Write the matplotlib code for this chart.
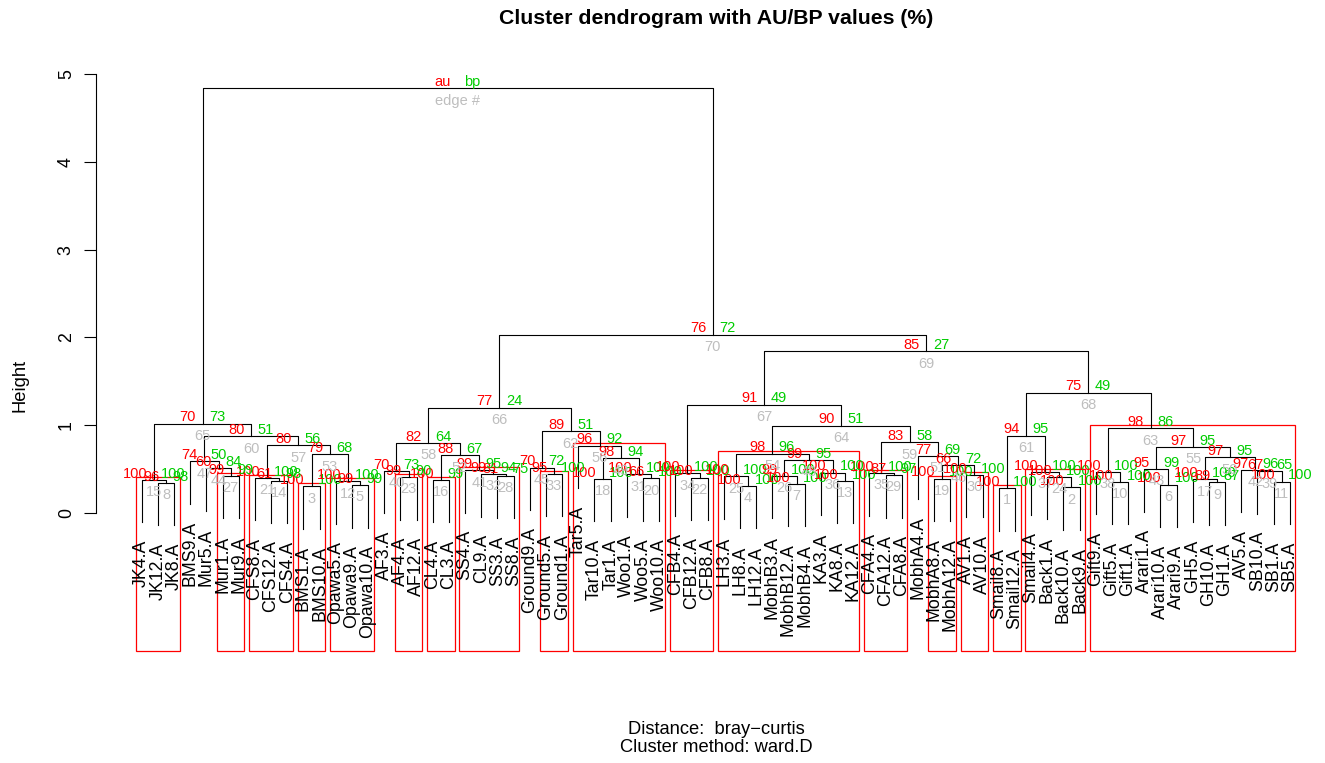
import matplotlib.pyplot as plt
from matplotlib.patches import Rectangle

plt.rcParams['font.family'] = ['Liberation Sans', 'DejaVu Sans']

leaves = ["JK4.A", "JK12.A", "JK8.A", "BMS9.A", "Mur5.A", "Mur1.A", "Mur9.A",
          "CFS8.A", "CFS12.A", "CFS4.A", "BMS1.A", "BMS10.A", "Opawa5.A",
          "Opawa9.A", "Opawa10.A", "AF3.A", "AF4.A", "AF12.A", "CL4.A", "CL3.A",
          "SS4.A", "CL9.A", "SS3.A", "SS8.A", "Ground9.A", "Ground5.A",
          "Ground1.A", "Tar5.A", "Tar10.A", "Tar1.A", "Woo1.A", "Woo5.A",
          "Woo10.A", "CFB4.A", "CFB12.A", "CFB8.A", "LH3.A", "LH8.A", "LH12.A",
          "MobhB3.A", "MobhB12.A", "MobhB4.A", "KA3.A", "KA8.A", "KA12.A",
          "CFA4.A", "CFA12.A", "CFA8.A", "MobhA4.A", "MobhA8.A", "MobhA12.A",
          "AV1.A", "AV10.A", "Smail8.A", "Smail12.A", "Smail4.A", "Back1.A",
          "Back10.A", "Back9.A", "Gift9.A", "Gift5.A", "Gift1.A", "Arari1.A",
          "Arari10.A", "Arari9.A", "GH5.A", "GH10.A", "GH1.A", "AV5.A",
          "SB10.A", "SB1.A", "SB5.A"]

# one row per edge (edge # = row + 1); a child is a leaf name or an earlier edge #
merges = [
    ("Smail8.A", "Smail12.A"), ("Back10.A", "Back9.A"), ("BMS1.A", "BMS10.A"),
    ("LH8.A", "LH12.A"), ("Opawa9.A", "Opawa10.A"), ("Arari10.A", "Arari9.A"),
    ("MobhB12.A", "MobhB4.A"), ("JK12.A", "JK8.A"), ("GH10.A", "GH1.A"),
    ("Gift5.A", "Gift1.A"), ("SB1.A", "SB5.A"), ("Opawa5.A", 5),
    ("KA8.A", "KA12.A"), ("CFS12.A", "CFS4.A"), ("JK4.A", 8),
    ("CL4.A", "CL3.A"), ("GH5.A", 9), ("Tar10.A", "Tar1.A"),
    ("MobhA8.A", "MobhA12.A"), ("Woo5.A", "Woo10.A"), ("CFS8.A", 14),
    ("CFB12.A", "CFB8.A"), ("AF4.A", "AF12.A"), ("Back1.A", 2),
    ("LH3.A", 4), ("MobhB3.A", 7), ("Mur1.A", "Mur9.A"), ("SS3.A", "SS8.A"),
    ("CFA12.A", "CFA8.A"), ("AV1.A", "AV10.A"), ("Woo1.A", 20), ("CL9.A", 28),
    ("Ground5.A", "Ground1.A"), ("CFB4.A", 22), ("CFA4.A", 29), ("KA3.A", 13),
    ("Smail4.A", 24), ("Gift9.A", 10), ("SB10.A", 11), ("AF3.A", 23),
    ("SS4.A", 32), ("AV5.A", 39), ("Arari1.A", 6), ("Mur5.A", 27),
    ("Ground9.A", 33), (19, 30), ("BMS9.A", 44), (26, 36), (18, 31), (17, 42),
    ("MobhA4.A", 46), (16, 41), (3, 12), (25, 48), (43, 50), ("Tar5.A", 49),
    (21, 53), (40, 52), (35, 51), (47, 57), (1, 37), (45, 56), (38, 55),
    (54, 59), (15, 60), (58, 62), (34, 64), (61, 63), (67, 68), (66, 69),
    (65, 70),
]

heights = [0.28, 0.29, 0.30, 0.305, 0.315, 0.32, 0.33, 0.34, 0.345, 0.35,
           0.355, 0.358, 0.362, 0.366, 0.373, 0.376, 0.38, 0.384, 0.388, 0.392,
           0.396, 0.40, 0.405, 0.41, 0.414, 0.418, 0.42, 0.424, 0.428, 0.432,
           0.436, 0.44, 0.443, 0.448, 0.452, 0.457, 0.462, 0.467, 0.472, 0.476,
           0.484, 0.49, 0.497, 0.505, 0.515, 0.54, 0.585, 0.60, 0.62, 0.63,
           0.645, 0.655, 0.665, 0.675, 0.75, 0.765, 0.768, 0.795, 0.803, 0.871,
           0.879, 0.928, 0.962, 0.993, 1.016, 1.199, 1.233, 1.37, 1.84, 2.03,
           4.84]

au = [100, 100, 100, 100, 99, 100, 100, 96, 89, 100, 100, 100, 100, 61, 100,
      100, 100, 100, 100, 66, 100, 100, 99, 100, 100, 99, 99, 81, 87, 100,
      100, 99, 95, 100, 100, 100, 100, 100, 67, 70, 99, 97, 95, 60, 70, 66,
      74, 99, 98, 97, 77, 88, 79, 98, 97, 96, 80, 82, 83, 80, 94, 89, 98, 90,
      70, 77, 91, 75, 85, 76, 100]

bp = [100, 100, 100, 100, 99, 100, 100, 98, 87, 100, 100, 100, 100, 98, 100,
      99, 100, 100, 100, 100, 100, 100, 90, 100, 100, 100, 99, 75, 97, 100,
      100, 94, 100, 100, 100, 100, 100, 100, 65, 73, 95, 96, 99, 84, 72, 72,
      50, 95, 94, 95, 69, 67, 68, 96, 95, 92, 56, 64, 58, 51, 95, 51, 86, 51,
      73, 24, 49, 49, 27, 72, 100]

RED, GREEN, GREY = '#FF0000', '#00CD00', '#BEBEBE'
YMIN, YMAX = -1.61, 5.16
XMIN, XMAX = -1.84, 74.18
NUM_SIZE = 10.5
LABEL_SIZE = 12.8

n = len(leaves)
hang = 0.1 * max(heights)
leaf_x = {name: i + 1 for i, name in enumerate(leaves)}

fig = plt.figure(figsize=(13.25, 7.63), dpi=100)
ax = fig.add_axes([95.8 / 1325, 1 - 653.9 / 763, 1 - 95.8 / 1325, (653.9 - 60.2) / 763])
ax.set_xlim(XMIN, XMAX)
ax.set_ylim(YMIN, YMAX)

node_x, members = [], []
for k, (a, b) in enumerate(merges):
    h = heights[k]
    xs, ys, mem = [], [], set()
    for c in (a, b):
        if isinstance(c, str):
            x = leaf_x[c]
            bottom = h - hang
            mem.add(x)
            ax.annotate(c, (x, bottom), xytext=(0, -12.5), textcoords='offset points',
                        rotation=90, ha='center', va='top', fontsize=LABEL_SIZE)
        else:
            x = node_x[c - 1]
            bottom = heights[c - 1]
            mem |= members[c - 1]
        xs.append(x)
        ys.append(bottom)
    ax.plot([xs[0], xs[0], xs[1], xs[1]], [ys[0], h, h, ys[1]], color='black', lw=0.8)
    node_x.append((xs[0] + xs[1]) / 2)
    members.append(mem)

# au / bp / edge # labels
for k in range(len(merges)):
    root = k == len(merges) - 1
    pt = (node_x[k], heights[k])
    ax.annotate('au' if root else str(au[k]), pt, xytext=(-4.7, 1.6),
                textcoords='offset points', ha='right', va='baseline',
                color=RED, fontsize=NUM_SIZE)
    ax.annotate('bp' if root else str(bp[k]), pt, xytext=(4.7, 1.6),
                textcoords='offset points', ha='left', va='baseline',
                color=GREEN, fontsize=NUM_SIZE)
    ax.annotate('edge #' if root else str(k + 1), pt, xytext=(0, -3.8),
                textcoords='offset points', ha='center', va='top',
                color=GREY, fontsize=NUM_SIZE)

# pvrect: largest clusters with au >= 95
mx = 1.08 * (n - 1) / n / 3
my = (YMAX - YMIN) / 200
taken = set()
for k in range(len(merges) - 2, -1, -1):
    if au[k] >= 95 and not (members[k] & taken):
        taken |= members[k]
        lo, hi = min(members[k]), max(members[k])
        ax.add_patch(Rectangle((lo - mx, YMIN + my), hi - lo + 2 * mx,
                               heights[k] - YMIN, fill=False, ec=RED, lw=0.9))

for side in ('top', 'right', 'bottom'):
    ax.spines[side].set_visible(False)
ax.spines['left'].set_bounds(0, 5)
ax.spines['left'].set_linewidth(0.8)
ax.set_xticks([])
ax.set_yticks(range(6))
ax.tick_params(axis='y', length=8.6, width=0.8, pad=6.5, labelsize=LABEL_SIZE)
for t in ax.get_yticklabels():
    t.set_rotation(90)
    t.set_va('center')

fig.text(20 / 1325, 1 - 385 / 763, 'Height', rotation=90, ha='center', va='center', fontsize=13.2)
fig.text(716 / 1325, 1 - 18 / 763, 'Cluster dendrogram with AU/BP values (%)',
         ha='center', va='center', fontsize=15.3, fontweight='bold')
fig.text(716 / 1325, 1 - 729 / 763, 'Distance:  bray\u2212curtis', ha='center', va='center', fontsize=13.2)
fig.text(716 / 1325, 1 - 748 / 763, 'Cluster method: ward.D', ha='center', va='center', fontsize=13.2)

fig.savefig('out.png', dpi=100)
